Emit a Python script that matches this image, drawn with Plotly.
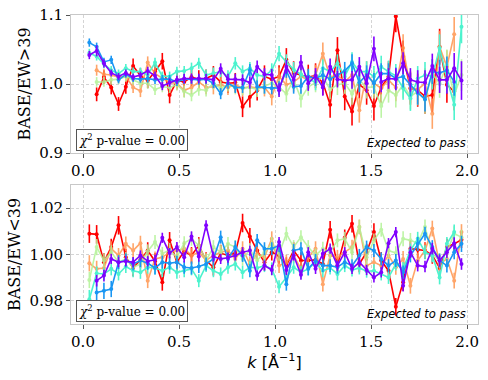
import plotly.graph_objects as go
from plotly.subplots import make_subplots

# k bins shared by every series
K = [0.033, 0.071, 0.109, 0.147, 0.185, 0.223, 0.261, 0.299, 0.337, 0.375,
     0.413, 0.451, 0.489, 0.527, 0.565, 0.603, 0.641, 0.679, 0.717, 0.755,
     0.793, 0.831, 0.869, 0.907, 0.945, 0.983, 1.021, 1.059, 1.097, 1.135,
     1.173, 1.211, 1.249, 1.287, 1.325, 1.363, 1.401, 1.439, 1.477, 1.515,
     1.553, 1.591, 1.629, 1.667, 1.705, 1.743, 1.781, 1.819, 1.857, 1.895,
     1.933, 1.971]

# --- top panel: BASE/EW>39 ---
TOP_PURPLE = [1.042, 1.048, 1.030, 1.016, 1.011, 1.016, 1.010, 1.013, 1.019, 1.012,
              0.997, 1.002, 1.006, 1.008, 1.008, 1.008, 1.008, 1.006, 1.022, 1.007,
              1.007, 1.006, 1.002, 1.025, 1.014, 1.013, 0.991, 1.025, 1.006, 1.031,
              1.001, 1.012, 0.995, 1.025, 1.007, 1.005, 1.006, 1.025, 1.001, 1.051,
              1.003, 1.008, 1.007, 1.030, 1.006, 1.003, 1.002, 1.026, 1.006, 1.006,
              1.023, 1.005]
TOP_BLUE = [1.060, 1.054, 1.032, 1.035, 1.006, 1.014, 1.008, 1.007, 1.008, 1.006,
            1.007, 1.007, 1.003, 1.007, 1.007, 1.006, 1.007, 1.001, 0.986, 1.001,
            0.995, 0.995, 1.020, 0.996, 0.995, 0.994, 0.994, 1.019, 0.996, 0.997,
            1.011, 1.008, 1.013, 1.007, 1.013, 1.019, 1.030, 1.002, 1.013, 1.001,
            1.015, 1.015, 1.008, 1.011, 0.999, 0.987, 0.978, 1.018, 1.016, 1.020,
            1.003, None]
TOP_TURQ = [1.045, 1.040, 1.029, 1.020, 1.015, 1.023, 1.018, 1.018, 1.013, 1.031,
            1.011, 1.011, 1.018, 1.019, 1.023, 1.030, 1.013, 1.016, 1.018, 1.011,
            1.030, 1.018, 1.023, 1.013, 1.011, 1.020, 1.044, 1.032, 1.021, 1.014,
            1.007, 1.003, 1.023, 1.018, 1.030, 1.011, 1.032, 1.018, 1.018, 1.011,
            1.025, 1.018, 1.012, 0.994, 0.979, 1.008, 1.013, 1.011, 1.052, 1.008,
            0.970, 1.083]
TOP_GREEN = [None, 1.003, 1.003, 1.006, 1.007, 1.011, 1.006, 1.001, 1.001, 0.992,
             0.996, 0.995, 0.999, 0.989, 0.984, 0.992, 0.991, 1.001, 0.994, 0.999,
             0.995, 0.994, 0.995, 0.992, 0.997, 1.001, 0.995, 0.986, 1.006, 0.979,
             0.996, 1.002, 1.011, 0.992, 0.999, 1.001, 0.986, 1.006, 0.995, 0.996,
             0.968, 0.991, 0.984, 0.999, 0.982, 0.989, 0.977, 1.015, 1.001, 1.028,
             0.984, 1.013]
TOP_ORANGE = [None, 1.020, 1.014, 1.013, 1.010, 1.011, 0.995, 0.990, 1.031, 1.015,
              1.008, 1.002, 1.001, 0.991, 0.995, 1.003, 0.995, 0.996, 0.999, 0.995,
              0.999, 0.994, 0.996, 0.994, 0.995, 0.982, 1.011, 0.999, 1.003, 1.011,
              1.006, 1.013, 1.044, 1.010, 1.013, 1.003, 1.013, 0.962, 1.015, 1.001,
              0.994, 1.006, 0.995, 1.052, 0.994, 0.992, 1.001, 0.957, 1.054, 1.025,
              1.072, None]
TOP_RED = [None, 0.985, 1.010, 0.995, 0.971, 0.996, 1.026, 1.012, 1.005, 1.018,
           1.033, 0.984, 1.005, 1.003, 1.010, 1.007, 1.008, 1.013, 1.003, 1.001,
           1.002, 0.967, 0.981, 0.991, 1.011, 1.007, 1.011, 1.035, 1.016, 1.013,
           1.010, 1.012, 1.002, 0.970, 1.049, 0.982, 0.960, 0.999, 0.991, 0.968,
           0.995, 1.011, 1.098, 1.040, 0.994, 0.991, 0.982, 0.984, 1.054, 0.999,
           0.989, None]

ERR_TOP_PURPLE = [0.006, 0.008, 0.006, 0.005, 0.005, 0.005, 0.005, 0.005, 0.006, 0.006,
                  0.006, 0.006, 0.006, 0.007, 0.007, 0.007, 0.007, 0.007, 0.008, 0.008,
                  0.008, 0.008, 0.009, 0.009, 0.009, 0.009, 0.010, 0.010, 0.010, 0.011,
                  0.011, 0.011, 0.012, 0.012, 0.012, 0.013, 0.013, 0.014, 0.014, 0.018,
                  0.015, 0.015, 0.016, 0.016, 0.017, 0.017, 0.018, 0.018, 0.019, 0.020,
                  0.022, 0.028]
ERR_TOP_BLUE = [0.006, 0.006, 0.006, 0.006, 0.005, 0.005, 0.005, 0.005, 0.006, 0.006,
                0.006, 0.006, 0.006, 0.007, 0.007, 0.007, 0.007, 0.007, 0.008, 0.008,
                0.008, 0.008, 0.009, 0.009, 0.009, 0.009, 0.010, 0.010, 0.010, 0.011,
                0.011, 0.011, 0.012, 0.012, 0.012, 0.013, 0.013, 0.014, 0.014, 0.015,
                0.015, 0.015, 0.016, 0.016, 0.017, 0.017, 0.018, 0.018, 0.019, 0.020,
                0.020, 0.0]
ERR_TOP_TURQ = [0.006, 0.006, 0.006, 0.006, 0.006, 0.006, 0.006, 0.006, 0.006, 0.007,
                0.007, 0.007, 0.007, 0.007, 0.008, 0.008, 0.008, 0.008, 0.008, 0.009,
                0.009, 0.009, 0.009, 0.010, 0.010, 0.010, 0.011, 0.011, 0.011, 0.012,
                0.012, 0.012, 0.013, 0.013, 0.013, 0.014, 0.014, 0.015, 0.015, 0.015,
                0.016, 0.016, 0.017, 0.017, 0.018, 0.018, 0.019, 0.019, 0.020, 0.021,
                0.022, 0.024]
ERR_TOP_GREEN = [0.0, 0.007, 0.007, 0.007, 0.007, 0.007, 0.007, 0.007, 0.008, 0.008,
                 0.008, 0.008, 0.008, 0.009, 0.009, 0.009, 0.009, 0.009, 0.010, 0.010,
                 0.010, 0.010, 0.011, 0.011, 0.011, 0.012, 0.012, 0.012, 0.013, 0.013,
                 0.013, 0.014, 0.014, 0.014, 0.015, 0.015, 0.016, 0.016, 0.016, 0.017,
                 0.017, 0.018, 0.018, 0.019, 0.019, 0.020, 0.020, 0.021, 0.021, 0.022,
                 0.022, 0.023]
ERR_TOP_ORANGE = [0.0, 0.008, 0.008, 0.008, 0.008, 0.008, 0.008, 0.009, 0.009, 0.009,
                  0.009, 0.009, 0.010, 0.010, 0.010, 0.010, 0.010, 0.011, 0.011, 0.011,
                  0.011, 0.012, 0.012, 0.012, 0.013, 0.013, 0.013, 0.014, 0.014, 0.014,
                  0.015, 0.015, 0.016, 0.016, 0.016, 0.017, 0.017, 0.018, 0.018, 0.018,
                  0.019, 0.019, 0.020, 0.020, 0.021, 0.021, 0.022, 0.022, 0.023, 0.024,
                  0.025, 0.0]
ERR_TOP_RED = [0.0, 0.010, 0.010, 0.010, 0.010, 0.010, 0.011, 0.011, 0.011, 0.011,
               0.012, 0.012, 0.012, 0.012, 0.013, 0.013, 0.013, 0.013, 0.014, 0.014,
               0.014, 0.015, 0.015, 0.015, 0.016, 0.016, 0.016, 0.017, 0.017, 0.017,
               0.018, 0.018, 0.018, 0.019, 0.019, 0.020, 0.020, 0.020, 0.021, 0.021,
               0.022, 0.022, 0.023, 0.023, 0.024, 0.024, 0.025, 0.025, 0.026, 0.026,
               0.027, 0.0]

# --- bottom panel: BASE/EW<39 ---
BOT_PURPLE = [None, 0.9887, 0.9909, 0.9981, 0.9967, 0.9971, 0.9967, 0.9996, 0.9971, 0.9977,
              1.0072, 1.0006, 1.0032, 0.9988, 1.0078, 0.9991, 1.0126, 0.9991, 0.9981, 0.9986,
              0.9996, 1.0010, 1.0017, 0.9909, 0.9952, 0.9933, 1.0054, 0.9933, 0.9996, 0.9913,
              1.0010, 0.9938, 1.0003, 1.0025, 0.9952, 1.0010, 0.9938, 0.9967, 0.9933, 0.9901,
              0.9923, 1.0049, 1.0097, 0.9865, 1.0010, 0.9952, 0.9948, 1.0025, 0.9974, 1.0010,
              1.0049, 0.9959]
BOT_BLUE = [None, 0.9836, 0.9843, 0.9851, 0.9967, 0.9974, 0.9959, 0.9974, 0.9962, 0.9942,
            0.9967, 0.9962, 0.9967, 0.9945, 0.9942, 0.9948, 0.9959, 0.9981, 1.0075, 0.9981,
            1.0032, 0.9996, 0.9930, 1.0061, 1.0025, 1.0025, 1.0039, 0.9872, 1.0017, 1.0025,
            0.9938, 0.9974, 0.9952, 0.9952, 0.9945, 0.9967, 0.9952, 0.9996, 1.0032, 1.0017,
            0.9981, 0.9952, 0.9974, 0.9923, 0.9996, 1.0046, 1.0090, 1.0032, 0.9974, 0.9952,
            1.0010, 1.0046]
BOT_TURQ = [0.9807, 0.9919, 0.9916, 0.9938, 0.9916, 0.9948, 0.9930, 0.9923, 0.9945, 0.9942,
            0.9930, 0.9945, 0.9923, 0.9930, 0.9938, 0.9887, 0.9952, 0.9930, 0.9916, 0.9945,
            0.9959, 0.9923, 0.9945, 0.9942, 0.9952, 0.9938, 0.9861, 0.9901, 0.9945, 0.9923,
            0.9938, 0.9967, 0.9930, 0.9942, 0.9916, 0.9952, 0.9933, 0.9942, 0.9928, 0.9930,
            0.9916, 0.9901, 0.9959, 0.9938, 1.0017, 1.0068, 1.0010, 0.9996, 0.9901, 1.0046,
            1.0097, None]
BOT_GREEN = [0.9890, 1.0032, 0.9974, 1.0010, 0.9967, 0.9981, 0.9945, 0.9959, 1.0014, 1.0054,
             1.0003, 1.0020, 0.9988, 1.0049, 1.0068, 1.0039, 0.9974, 1.0032, 1.0010, 1.0046,
             1.0032, 0.9981, 1.0020, 0.9974, 1.0010, 1.0046, 1.0003, 1.0090, 1.0032, 1.0075,
             1.0032, 0.9996, 1.0025, 1.0010, 1.0061, 1.0068, 1.0010, 1.0119, 0.9988, 1.0061,
             1.0107, 1.0017, 1.0006, 1.0068, 1.0061, 1.0049, 1.0119, 1.0003, 0.9974, 1.0010,
             1.0090, 1.0075]
BOT_ORANGE = [0.9962, 0.9938, 0.9942, 1.0025, 0.9996, 1.0046, 1.0017, 1.0049, 0.9887, 0.9981,
              0.9988, 1.0010, 1.0017, 1.0025, 0.9996, 1.0010, 0.9974, 0.9996, 1.0010, 1.0017,
              0.9981, 1.0025, 0.9959, 1.0003, 0.9988, 1.0068, 0.9952, 0.9967, 0.9996, 0.9938,
              0.9988, 1.0025, 0.9872, 0.9996, 0.9988, 1.0010, 1.0032, 1.0119, 0.9952, 0.9967,
              0.9952, 0.9996, 0.9945, 0.9981, 0.9865, 0.9974, 1.0017, 1.0112, 0.9959, 0.9981,
              0.9887, 1.0097]
BOT_RED = [1.0090, 1.0087, 0.9967, 1.0032, 1.0126, 0.9988, 0.9942, 0.9977, 1.0017, 0.9971,
           0.9880, 1.0061, 0.9967, 1.0014, 0.9996, 1.0039, 0.9974, 0.9945, 1.0006, 0.9996,
           1.0006, 1.0136, 1.0078, 1.0017, 0.9967, 1.0010, 0.9996, 0.9952, 1.0017, 0.9974,
           0.9974, 0.9977, 0.9959, 1.0107, 0.9952, 1.0072, 1.0133, 0.9959, 1.0010, 1.0097,
           0.9974, 0.9930, 0.9774, 0.9880, 1.0025, 1.0020, 1.0017, 0.9996, 0.9942, 1.0032,
           1.0046, 1.0064]

ERR_BOT_PURPLE = [0.0, 0.0025, 0.0025, 0.0022, 0.0022, 0.0022, 0.0022, 0.0022, 0.0022, 0.0022,
                  0.0022, 0.0022, 0.0022, 0.0022, 0.0022, 0.0022, 0.0022, 0.0022, 0.0022, 0.0022,
                  0.0022, 0.0022, 0.0022, 0.0022, 0.0022, 0.0022, 0.0022, 0.0022, 0.0022, 0.0022,
                  0.0022, 0.0022, 0.0022, 0.0022, 0.0022, 0.0022, 0.0022, 0.0022, 0.0022, 0.0022,
                  0.0022, 0.0022, 0.0022, 0.0025, 0.0025, 0.0025, 0.0025, 0.0025, 0.0025, 0.0025,
                  0.0025, 0.0025]
ERR_BOT_BLUE = [0.0, 0.0040, 0.0035, 0.0035, 0.0030, 0.0030, 0.0028, 0.0028, 0.0028, 0.0028,
                0.0028, 0.0028, 0.0028, 0.0028, 0.0028, 0.0028, 0.0028, 0.0028, 0.0028, 0.0028,
                0.0028, 0.0028, 0.0028, 0.0028, 0.0028, 0.0028, 0.0028, 0.0028, 0.0028, 0.0028,
                0.0028, 0.0028, 0.0028, 0.0028, 0.0028, 0.0028, 0.0028, 0.0028, 0.0028, 0.0028,
                0.0028, 0.0028, 0.0028, 0.0030, 0.0030, 0.0030, 0.0030, 0.0030, 0.0030, 0.0030,
                0.0030, 0.0035]
ERR_BOT_TURQ = [0.0040, 0.0030, 0.0028, 0.0028, 0.0028, 0.0028, 0.0028, 0.0028, 0.0028, 0.0028,
                0.0028, 0.0028, 0.0028, 0.0028, 0.0028, 0.0028, 0.0028, 0.0028, 0.0028, 0.0028,
                0.0028, 0.0028, 0.0028, 0.0028, 0.0028, 0.0028, 0.0028, 0.0028, 0.0028, 0.0028,
                0.0028, 0.0028, 0.0028, 0.0028, 0.0028, 0.0028, 0.0028, 0.0028, 0.0028, 0.0028,
                0.0028, 0.0028, 0.0028, 0.0030, 0.0030, 0.0030, 0.0030, 0.0030, 0.0030, 0.0030,
                0.0032, 0.0]
ERR_BOT_GREEN = [0.0035, 0.0035, 0.0030, 0.0030, 0.0030, 0.0030, 0.0030, 0.0030, 0.0030, 0.0030,
                 0.0030, 0.0030, 0.0030, 0.0030, 0.0030, 0.0030, 0.0030, 0.0030, 0.0030, 0.0030,
                 0.0030, 0.0030, 0.0030, 0.0030, 0.0030, 0.0030, 0.0030, 0.0030, 0.0030, 0.0030,
                 0.0030, 0.0030, 0.0030, 0.0030, 0.0030, 0.0030, 0.0030, 0.0030, 0.0030, 0.0030,
                 0.0030, 0.0030, 0.0030, 0.0032, 0.0032, 0.0032, 0.0032, 0.0032, 0.0032, 0.0032,
                 0.0032, 0.0032]
ERR_BOT_ORANGE = [0.0035, 0.0035, 0.0032, 0.0032, 0.0032, 0.0032, 0.0032, 0.0032, 0.0032, 0.0032,
                  0.0032, 0.0032, 0.0032, 0.0032, 0.0032, 0.0032, 0.0032, 0.0032, 0.0032, 0.0032,
                  0.0032, 0.0032, 0.0032, 0.0032, 0.0032, 0.0032, 0.0032, 0.0032, 0.0032, 0.0032,
                  0.0032, 0.0032, 0.0032, 0.0032, 0.0032, 0.0032, 0.0032, 0.0032, 0.0032, 0.0032,
                  0.0032, 0.0032, 0.0032, 0.0034, 0.0034, 0.0034, 0.0034, 0.0034, 0.0034, 0.0034,
                  0.0034, 0.0034]
ERR_BOT_RED = [0.0040, 0.0040, 0.0038, 0.0036, 0.0040, 0.0036, 0.0036, 0.0036, 0.0036, 0.0036,
               0.0036, 0.0036, 0.0036, 0.0036, 0.0036, 0.0036, 0.0036, 0.0036, 0.0036, 0.0036,
               0.0036, 0.0040, 0.0036, 0.0036, 0.0036, 0.0036, 0.0036, 0.0036, 0.0036, 0.0036,
               0.0036, 0.0036, 0.0036, 0.0038, 0.0036, 0.0036, 0.0038, 0.0036, 0.0036, 0.0038,
               0.0036, 0.0036, 0.0038, 0.0038, 0.0036, 0.0036, 0.0036, 0.0036, 0.0036, 0.0036,
               0.0036, 0.0036]

# rainbow colormap, drawn red first so purple ends on top
COLORS = ['#ff0000', '#ff964f', '#b2f396', '#4df3ce', '#1996f3', '#8000ff']
TOP = [(TOP_RED, ERR_TOP_RED), (TOP_ORANGE, ERR_TOP_ORANGE), (TOP_GREEN, ERR_TOP_GREEN),
       (TOP_TURQ, ERR_TOP_TURQ), (TOP_BLUE, ERR_TOP_BLUE), (TOP_PURPLE, ERR_TOP_PURPLE)]
BOT = [(BOT_RED, ERR_BOT_RED), (BOT_ORANGE, ERR_BOT_ORANGE), (BOT_GREEN, ERR_BOT_GREEN),
       (BOT_TURQ, ERR_BOT_TURQ), (BOT_BLUE, ERR_BOT_BLUE), (BOT_PURPLE, ERR_BOT_PURPLE)]

SERIF = 'DejaVu Serif'
SANS = 'DejaVu Sans'

fig = make_subplots(rows=2, cols=1, vertical_spacing=0.1)

for row, panel in ((1, TOP), (2, BOT)):
    for color, (vals, errs) in zip(COLORS, panel):
        fig.add_trace(go.Scatter(
            x=K, y=vals,
            mode='lines+markers',
            line=dict(color=color, width=1.6),
            marker=dict(color=color, size=4),
            opacity=0.85 if color in ('#ff964f', '#b2f396') else 1.0,
            error_y=dict(type='data', array=errs, width=0, thickness=1.6, color=color),
            connectgaps=False,
            showlegend=False,
        ), row=row, col=1)

axis_style = dict(
    showline=True, mirror=True, linecolor='#c8c8c8', linewidth=1,
    showgrid=True, gridcolor='#d4d4d4', griddash='3px,2px', gridwidth=1,
    zeroline=False, ticks='outside', ticklen=4, tickcolor='#555555',
    tickfont=dict(family=SERIF, size=15, color='black'),
    automargin=False,
)

fig.update_xaxes(axis_style, range=[-0.0625, 2.057], tickvals=[0, 0.5, 1.0, 1.5, 2.0],
                 ticktext=['0.0', '0.5', '1.0', '1.5', '2.0'])
fig.update_xaxes(title=dict(text='<i>k</i> [Å<sup>−1</sup>]', standoff=0,
                            font=dict(family=SANS, size=16, color='black')), row=2, col=1)
fig.update_yaxes(axis_style)
fig.update_yaxes(range=[0.9, 1.1], tickvals=[0.9, 1.0, 1.1], ticktext=['0.9', '1.0', '1.1'],
                 title=dict(text='BASE/EW>39', standoff=4,
                            font=dict(family=SERIF, size=16, color='black')), row=1, col=1)
fig.update_yaxes(range=[0.970, 1.030], tickvals=[0.98, 1.00, 1.02],
                 ticktext=['0.98', '1.00', '1.02'],
                 title=dict(text='BASE/EW<39', standoff=4,
                            font=dict(family=SERIF, size=16, color='black')), row=2, col=1)

fig.update_layout(
    width=488, height=380,
    margin=dict(l=71, r=10, t=15, b=56),
    plot_bgcolor='white', paper_bgcolor='white',
    yaxis=dict(domain=[0.5534, 1.0]),
    yaxis2=dict(domain=[0.0, 0.4498]),
    showlegend=False,
)

for xr, yr in (('x domain', 'y domain'), ('x2 domain', 'y2 domain')):
    fig.add_annotation(
        xref=xr, yref=yr, x=0.013, y=0.015, xanchor='left', yanchor='bottom',
        text='<i>χ</i><sup>2</sup> p-value = 0.00', showarrow=False,
        font=dict(family=SERIF, size=12, color='black'),
        bordercolor='#555555', borderwidth=1, borderpad=2, bgcolor='white',
    )
    fig.add_annotation(
        xref=xr, yref=yr, x=0.975, y=0.07, xanchor='right', yanchor='middle',
        text='<i>Expected to pass</i>', showarrow=False,
        font=dict(family=SANS, size=11.5, color='black'),
    )

# the page's default body margin would shift the whole figure by 8px
fig.write_html('out.html', config={'displayModeBar': False},
               post_script="document.body.style.margin='0';")
